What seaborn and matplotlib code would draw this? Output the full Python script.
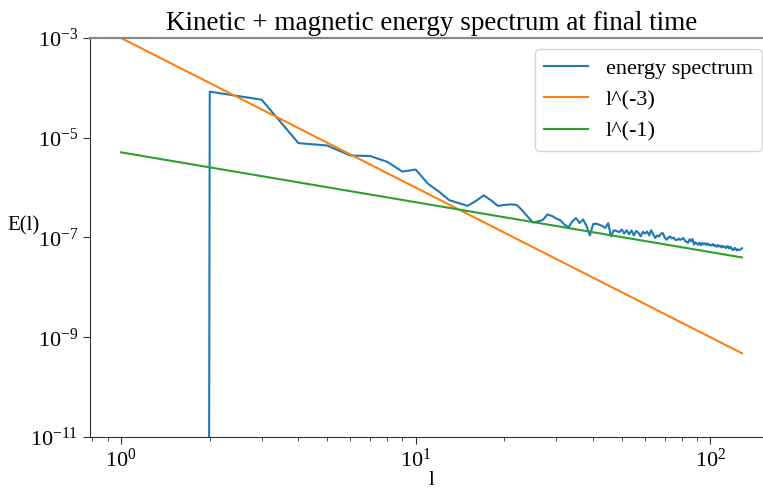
import matplotlib
matplotlib.use("Agg")
import matplotlib.pyplot as plt
import matplotlib.ticker as mticker
import numpy as np
import pandas as pd
import seaborn as sns

# spectrum E(l), l = 1..128 (E(1) = 0, off the log axis)
energy = [
    0.0, 8.4e-5, 5.8e-5, 7.8e-6, 7.0e-6, 4.4e-6, 4.3e-6, 3.3e-6, 2.1e-6, 2.3e-6,
    1.2e-6, 8.3e-7, 5.6e-7, 4.9e-7, 4.3e-7, 5.4e-7, 7.0e-7, 5.6e-7, 4.3e-7, 4.5e-7,
    4.6e-7, 4.5e-7, 3.5e-7, 2.6e-7, 2.0e-7, 2.1e-7, 2.25e-7, 2.9e-7, 2.7e-7, 2.4e-7,
    2.2e-7, 1.8e-7, 1.6e-7, 2.1e-7, 2.45e-7, 1.95e-7, 2.3e-7, 1.7e-7, 1.1e-7, 1.85e-7,
    1.9e-7, 1.8e-7, 1.7e-7, 1.55e-7, 1.95e-7, 1.05e-7, 1.4e-7, 1.35e-7, 1.28e-7, 1.45e-7,
    1.2e-7, 1.4e-7, 1.15e-7, 1.38e-7, 1.1e-7, 1.35e-7, 1.25e-7, 1.05e-7, 1.3e-7, 1.2e-7,
    1.32e-7, 1.1e-7, 1.4e-7, 1.15e-7, 9.8e-8, 1.1e-7, 1.05e-7, 1.2e-7, 1.22e-7, 1.0e-7,
    9.0e-8, 1.0e-7, 1.05e-7, 9.6e-8, 1.0e-7, 9.0e-8, 8.9e-8, 9.5e-8, 9.0e-8, 9.3e-8,
    9.8e-8, 8.6e-8, 8.2e-8, 7.8e-8, 9.2e-8, 8.4e-8, 9.3e-8, 7.2e-8, 8.0e-8, 7.6e-8,
    7.1e-8, 7.9e-8, 7.0e-8, 7.8e-8, 7.3e-8, 7.7e-8, 7.1e-8, 7.6e-8, 7.0e-8, 7.2e-8,
    6.9e-8, 7.4e-8, 6.8e-8, 7.0e-8, 6.5e-8, 7.1e-8, 6.6e-8, 6.9e-8, 6.3e-8, 6.8e-8,
    6.4e-8, 6.6e-8, 6.1e-8, 6.7e-8, 6.6e-8, 6.0e-8, 6.5e-8, 6.1e-8, 5.6e-8, 5.7e-8,
    6.2e-8, 5.9e-8, 5.5e-8, 5.8e-8, 5.6e-8, 5.7e-8, 5.8e-8, 6.1e-8,
]
ell = np.arange(1, len(energy) + 1)
amp_m3 = 1e-3      # prefactor of the l^(-3) reference line
amp_m1 = 5.1e-6    # prefactor of the l^(-1) reference line

df = pd.DataFrame({"l": ell, "energy spectrum": energy,
                   "l^(-3)": amp_m3 * ell ** -3.0,
                   "l^(-1)": amp_m1 * ell ** -1.0})

plt.rcParams["font.family"] = ["Liberation Serif", "DejaVu Serif"]
plt.rcParams["mathtext.fontset"] = "stix"

fig = plt.figure(figsize=(7.63, 4.94), dpi=100)
# the axes runs a little past the right edge of the figure, as in the original
ax = fig.add_axes([90 / 763, 1 - 437 / 494, 683 / 763, 399 / 494])
ax.set_xscale("log")
ax.set_yscale("log")

ax.plot(df["l"], df["energy spectrum"], color="C0", lw=1.5, label="energy spectrum")
sns.lineplot(data=df, x="l", y="l^(-3)", ax=ax, color="C1", lw=1.5, label="l^(-3)")
sns.lineplot(data=df, x="l", y="l^(-1)", ax=ax, color="C2", lw=1.5, label="l^(-1)")

ax.set_ylim(1e-11, 1e-3)
ax.set_yticks([1e-11, 1e-9, 1e-7, 1e-5, 1e-3])
ax.yaxis.set_minor_locator(mticker.NullLocator())

ax.set_title("Kinetic + magnetic energy spectrum at final time", fontsize=19.5)
ax.set_xlabel("l", fontsize=15, va="center")
ax.xaxis.set_label_coords(0.5, -0.11)
ax.set_ylabel("E(l)", fontsize=15, rotation=0, ha="center", va="center")
ax.yaxis.set_label_coords(-0.097, 0.529)
ax.tick_params(labelsize=16, direction="out", length=5, color="#333333")
ax.tick_params(which="minor", length=3, color="#333333")

for s in ["left", "bottom"]:
    ax.spines[s].set_color("#333333")
ax.spines["top"].set_color("#888888")
ax.spines["top"].set_linewidth(1.6)
ax.spines["right"].set_visible(False)

ax.legend(loc="upper right", fontsize=16)

fig.savefig("out.png", dpi=100)
